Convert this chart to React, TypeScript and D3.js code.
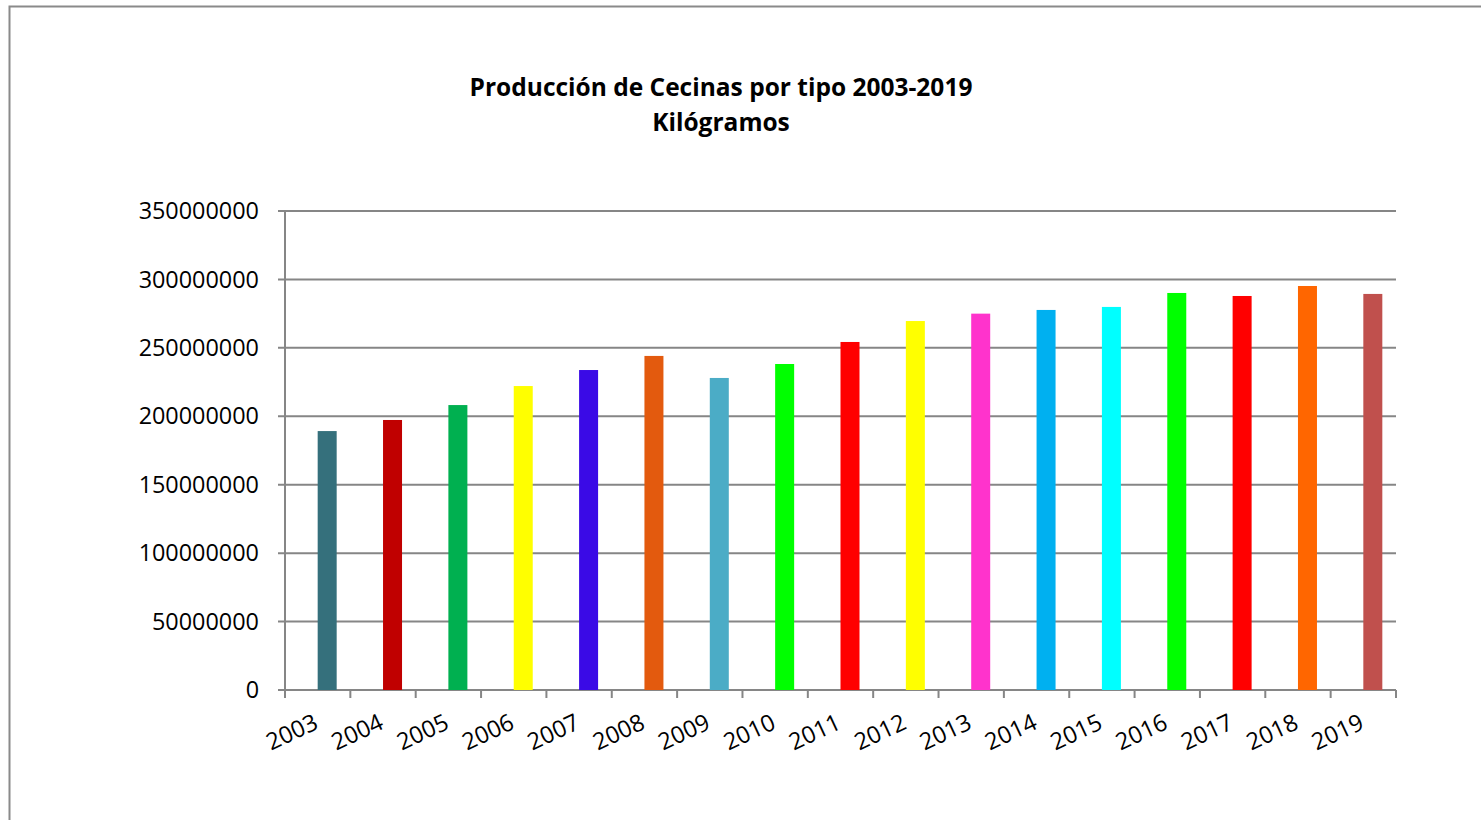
import React from 'react';
import * as d3 from 'd3';

const years = ['2003', '2004', '2005', '2006', '2007', '2008', '2009', '2010', '2011',
    '2012', '2013', '2014', '2015', '2016', '2017', '2018', '2019'];
const kilos = [189200000, 197300000, 208200000, 222100000, 233800000, 244100000, 228000000,
    238200000, 254300000, 269600000, 275000000, 277700000, 279900000, 290100000, 287900000,
    295200000, 289400000];
const barColors = ['#35707C', '#C00000', '#00B050', '#FFFF00', '#3A0AE6', '#E35A0E', '#4BACC6',
    '#00FF00', '#FF0000', '#FFFF00', '#FF33CC', '#00B0F0', '#00FFFF', '#00FF00', '#FF0000',
    '#FF6600', '#C0504D'];
const yTicks = [0, 50000000, 100000000, 150000000, 200000000, 250000000, 300000000, 350000000];

const W = 1481;
const H = 820;
const margin = { top: 211, right: 85, bottom: 130, left: 285 };
const font = '"Open Sans", sans-serif';
const gridColor = '#868686';

const App: React.FC = () => {
    const x = d3.scaleBand<string>()
        .domain(years)
        .range([margin.left, W - margin.right]);

    const y = d3.scaleLinear()
        .domain([0, 350000000])
        .range([H - margin.bottom, margin.top]);

    const bw = x.bandwidth();
    const barW = 19;
    const y0 = y(0);

    return (
        <svg width={W} height={H} style={{ position: 'absolute', left: 0, top: 0, background: '#fff' }}>
            {/* marco del gráfico */}
            <path d={`M9.5,${H} V6.5 H${W}`} fill="none" stroke="#8a8a8a" strokeWidth={2} />

            <text x={721} y={96} textAnchor="middle" fontFamily={font} fontWeight="bold" fontSize={24.5}>
                Producción de Cecinas por tipo 2003-2019
            </text>
            <text x={721} y={131} textAnchor="middle" fontFamily={font} fontWeight="bold" fontSize={24.5}>
                Kilógramos
            </text>

            {yTicks.map(t => (
                <g key={t}>
                    <line x1={margin.left - 7} x2={W - margin.right} y1={y(t)} y2={y(t)}
                        stroke={gridColor} strokeWidth={2} />
                    <text x={259} y={y(t)} dy="0.35em" textAnchor="end" fontFamily={font} fontSize={23.4}>
                        {t}
                    </text>
                </g>
            ))}

            <line x1={margin.left} x2={margin.left} y1={margin.top} y2={y0} stroke={gridColor} strokeWidth={2} />

            {years.map((yr, i) => (
                <rect key={yr} x={(x(yr) as number) + bw / 2} width={barW}
                    y={y(kilos[i])} height={y0 - y(kilos[i])} fill={barColors[i]} />
            ))}

            {years.concat(['end']).map((yr, i) => {
                const tx = margin.left + i * bw;
                return <line key={yr} x1={tx} x2={tx} y1={y0} y2={y0 + 8} stroke={gridColor} strokeWidth={2} />;
            })}

            {years.map(yr => {
                const cx = (x(yr) as number) + bw / 2 + 2;
                return (
                    <text key={yr} transform={`translate(${cx},${y0 + 38}) rotate(-25)`} textAnchor="end"
                        fontFamily={font} fontSize={23.5}>
                        {yr}
                    </text>
                );
            })}
        </svg>
    );
};

export default App;
